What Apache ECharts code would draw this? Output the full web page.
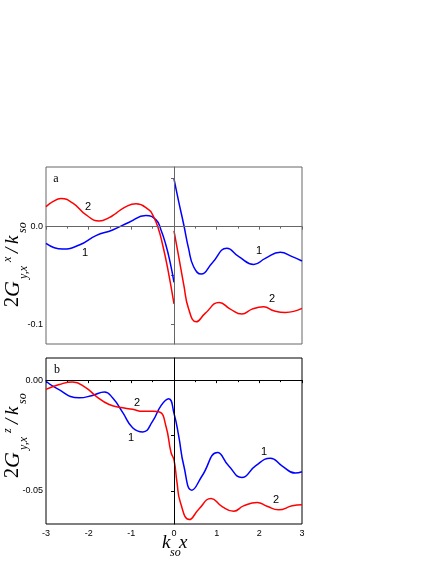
<!DOCTYPE html>
<html>
<head>
<meta charset="utf-8">
<script src="https://cdn.jsdelivr.net/npm/echarts@6/dist/echarts.min.js"></script>
<style>
  html, body { margin: 0; padding: 0; background: #fff; }
  #chart { width: 436px; height: 564px; }
</style>
</head>
<body>
<div id="chart"></div>
<script>
// panel a: curves jump at x = 0, so each one is split in a left and right piece
const aBlueLeftX  = [-3, -2.61, -2.22, -1.83, -1.44, -1.05, -0.66, -0.42, -0.305, -0.19, -0.094, 0]
const aBlueLeftY  = [-0.017, -0.0229, -0.0188, -0.0092, -0.0034, 0.0045, 0.0113, 0.0069, -0.0034, -0.0188, -0.0358, -0.057]
const aBlueRightX = [0, 0.11, 0.23, 0.34, 0.46, 0.64, 0.89, 1.24, 1.52, 1.87, 2.14, 2.49, 2.77, 3]
const aBlueRightY = [0.0489, 0.0256, 0.0017, -0.022, -0.041, -0.0485, -0.0375, -0.0222, -0.0307, -0.0386, -0.0324, -0.0262, -0.0307, -0.0351]
const aRedLeftX   = [-3, -2.84, -2.65, -2.37, -2.06, -1.75, -1.52, -1.36, -1.125, -0.89, -0.58, -0.5, -0.38, -0.265, -0.148, 0]
const aRedLeftY   = [0.0205, 0.0256, 0.0287, 0.024, 0.012, 0.0058, 0.0092, 0.0137, 0.0205, 0.0233, 0.017, 0.012, 0, -0.0188, -0.0427, -0.079]
const aRedRightX  = [0, 0.11, 0.23, 0.34, 0.52, 0.73, 1.06, 1.32, 1.59, 1.83, 2.1, 2.34, 2.61, 3]
const aRedRightY  = [-0.0044, -0.0307, -0.0597, -0.0836, -0.0973, -0.0887, -0.0775, -0.0843, -0.0894, -0.0843, -0.082, -0.086, -0.0877, -0.0836]

// panel b
const bBlueX = [-3, -2.77, -2.22, -1.91, -1.63, -1.44, -1.2, -0.97, -0.73, -0.5, -0.3, -0.125, 0, 0.11, 0.23, 0.42, 0.66, 1.02, 1.28, 1.59, 1.91, 2.26, 2.53, 2.84, 3]
const bBlueY = [-0.0005, -0.0035, -0.008, -0.0069, -0.0054, -0.008, -0.0147, -0.0215, -0.0234, -0.0185, -0.0114, -0.0084, -0.015, -0.0252, -0.0387, -0.0497, -0.0432, -0.0327, -0.0387, -0.044, -0.0387, -0.0353, -0.0387, -0.042, -0.0414]
const bRedX  = [-3, -2.69, -2.38, -2.06, -1.83, -1.52, -1.2, -0.97, -0.73, -0.5, -0.34, -0.19, -0.07, 0, 0.07, 0.15, 0.36, 0.58, 0.87, 1.12, 1.4, 1.63, 1.95, 2.18, 2.45, 2.77, 3]
const bRedY  = [-0.0042, -0.002, -0.0008, -0.0035, -0.0072, -0.011, -0.0125, -0.0132, -0.0141, -0.0141, -0.0144, -0.0207, -0.0327, -0.036, -0.0462, -0.0553, -0.063, -0.0583, -0.0535, -0.057, -0.0592, -0.0568, -0.0553, -0.057, -0.0586, -0.0568, -0.0563]

const aYTicks = [0.05, 0, -0.05, -0.1]
const aYLabels = [0, -0.1]
const bYTicks = [0, -0.025, -0.05]
const bYLabels = [0, -0.05]

const BLUE = '#0000ff', RED = '#ff0000'
const SANS = '"Liberation Sans", Arial, sans-serif'
const SERIF = '"Liberation Serif", "Times New Roman", serif'

const zip = (xs, ys) => xs.map((x, i) => [x, ys[i]])

function line(name, xs, ys, color, idx) {
  return {
    name, type: 'line', xAxisIndex: idx, yAxisIndex: idx,
    data: zip(xs, ys), smooth: 0.5, showSymbol: false, silent: true,
    lineStyle: { color, width: 1.5 }, itemStyle: { color },
  }
}

function zeroLines(color) {
  return {
    silent: true, symbol: 'none', label: { show: false },
    lineStyle: { color, width: 1, type: 'solid' },
    data: [{ yAxis: 0 }, { xAxis: 0 }],
  }
}

function xAxis(idx, color, showLabel) {
  return {
    type: 'value', gridIndex: idx, min: -3, max: 3, interval: 1,
    splitLine: { show: false },
    axisLine: { lineStyle: { color, width: 1 } },
    axisTick: { show: true, inside: false, length: 3, lineStyle: { color } },
    minorTick: { show: true, splitNumber: 2, length: 2, lineStyle: { color } },
    axisLabel: { show: showLabel, color: '#000', fontSize: 9, fontFamily: SANS, margin: 5,
      formatter: v => String(v) },
  }
}

function yAxis(idx, min, max, ticks, labels, digits, color) {
  return {
    type: 'value', gridIndex: idx, min, max,
    splitLine: { show: false },
    axisLine: { lineStyle: { color, width: 1 } },
    axisTick: { show: true, inside: false, length: 3, customValues: ticks, lineStyle: { color } },
    axisLabel: { color: '#000', fontSize: 9, fontFamily: SANS, margin: 3,
      customValues: labels, formatter: v => v.toFixed(digits) },
  }
}

// rotated y-axis title: 2G_{y,x}^{sup}/k_{so}
function yTitle(x, y, sup) {
  const it = size => `italic ${size}px ${SERIF}`
  const t = (text, lx, ly, font) => ({ type: 'text', x: lx, y: ly,
    style: { text, font, fill: '#000', align: 'left', verticalAlign: 'middle' } })
  return {
    type: 'group', x, y, rotation: Math.PI / 2, silent: true,
    children: [
      t('2', 0, -7, `20px ${SERIF}`),
      t('G', 10, -7, it(22)),
      t('y,x', 28, 4, it(12)),
      t(sup, 45, -12, it(12)),
      t('/', 54, -7, it(19)),
      t('k', 63, -7, it(19)),
      t('so', 74, 3, it(12)),
    ],
  }
}

function label(text, x, y, font) {
  return { type: 'text', x, y, silent: true,
    style: { text, font, fill: '#000', align: 'center', verticalAlign: 'middle' } }
}

const chart = echarts.init(document.getElementById('chart'))
chart.setOption({
  animation: false,
  backgroundColor: '#fff',
  grid: [
    { left: 46, top: 167, width: 256, height: 177, show: true, borderColor: '#666', borderWidth: 1 },
    { left: 46, top: 358, width: 256, height: 166, show: true, borderColor: '#000', borderWidth: 1 },
  ],
  xAxis: [xAxis(0, '#666', false), xAxis(1, '#000', true)],
  yAxis: [
    yAxis(0, -0.12, 0.061, aYTicks, aYLabels, 1, '#666'),
    yAxis(1, -0.065, 0.01, bYTicks, bYLabels, 2, '#000'),
  ],
  series: [
    Object.assign(line('a1L', aBlueLeftX, aBlueLeftY, BLUE, 0), { markLine: zeroLines('#666') }),
    line('a1R', aBlueRightX, aBlueRightY, BLUE, 0),
    line('a2L', aRedLeftX, aRedLeftY, RED, 0),
    line('a2R', aRedRightX, aRedRightY, RED, 0),
    Object.assign(line('b1', bBlueX, bBlueY, BLUE, 1), { markLine: zeroLines('#000') }),
    line('b2', bRedX, bRedY, RED, 1),
  ],
  graphic: [
    yTitle(20, 307, 'x'),
    yTitle(20, 478, 'z'),
    label('a', 56, 179, `12px ${SERIF}`),
    label('b', 57, 370, `12px ${SERIF}`),
    label('2', 88, 207, `11px ${SANS}`),
    label('1', 85, 253, `11px ${SANS}`),
    label('1', 259, 251, `11px ${SANS}`),
    label('2', 272, 299, `11px ${SANS}`),
    label('2', 137, 403, `11px ${SANS}`),
    label('1', 131, 438, `11px ${SANS}`),
    label('1', 264, 452, `11px ${SANS}`),
    label('2', 276, 500, `11px ${SANS}`),
    // x-axis title k_so x
    { type: 'text', x: 162, y: 552, silent: true, style: { text: 'k', font: `italic 19px ${SERIF}`, fill: '#000', verticalAlign: 'bottom' } },
    { type: 'text', x: 170, y: 559, silent: true, style: { text: 'so', font: `italic 12px ${SERIF}`, fill: '#000', verticalAlign: 'bottom' } },
    { type: 'text', x: 179, y: 552, silent: true, style: { text: 'x', font: `italic 19px ${SERIF}`, fill: '#000', verticalAlign: 'bottom' } },
  ],
})
</script>
</body>
</html>
